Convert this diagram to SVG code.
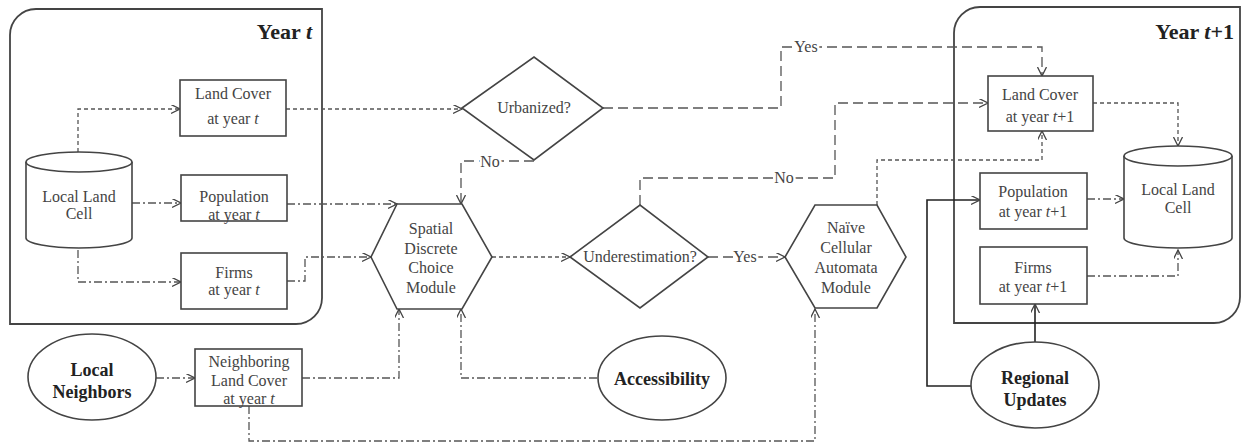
<svg xmlns="http://www.w3.org/2000/svg" width="1244" height="444" viewBox="0 0 1244 444">
<style>
.c{fill:none;stroke:#444;stroke-width:1.8}
.b{fill:#fff;stroke:#444;stroke-width:1.6}
.t{font-family:"Liberation Serif","Times New Roman",serif;font-size:16px;fill:#444;text-anchor:middle}
.bt{font-family:"Liberation Serif","Times New Roman",serif;font-size:18px;font-weight:bold;fill:#222;text-anchor:middle}
.ttl{font-family:"Liberation Serif","Times New Roman",serif;font-size:22px;font-weight:bold;fill:#222;text-anchor:end}
.i{font-style:italic}
.e{fill:none;stroke:#555;stroke-width:1.3;marker-end:url(#a)}
.sd{stroke-dasharray:4,3}
.dd{stroke-dasharray:8,3,2,3}
.ld{stroke-dasharray:10,5}
.so{stroke:#222;stroke-width:1.6}
.lb{font-family:"Liberation Serif","Times New Roman",serif;font-size:16px;fill:#444;text-anchor:middle;stroke:#fff;stroke-width:5;paint-order:stroke}
</style>
<defs>
<marker id="a" markerWidth="10" markerHeight="10" refX="9" refY="4.5" orient="auto" markerUnits="userSpaceOnUse">
<path d="M0,0 L9,4.5 L0,9" fill="none" stroke="#444" stroke-width="1.3"/>
</marker>
</defs>
<rect width="1244" height="444" fill="#fff"/>

<g id="year-t">
<path class="c" d="M10,324 V35 A26,26 0 0 1 36,9 H322 V298 A26,26 0 0 1 296,324 Z"/>
<text class="ttl" x="312" y="39">Year <tspan class="i">t</tspan></text>
</g>
<g id="year-t1">
<path class="c" d="M954,323 V33 A26,26 0 0 1 980,7 H1240 V297 A26,26 0 0 1 1214,323 Z"/>
<text class="ttl" x="1234" y="39">Year <tspan class="i">t</tspan>+1</text>
</g>

<g id="connectors">
<path class="e sd" d="M78,152 V109 H180"/>
<path class="e dd" d="M132,203 H181"/>
<path class="e dd" d="M78,250 V282 H181"/>
<path class="e sd" d="M286,109 H462"/>
<path class="e dd" d="M287,204 H397"/>
<path class="e dd" d="M287,281 H305 V257 H371"/>
<path class="e ld" d="M534,161 H461 V204"/>
<path class="e ld" d="M603,108 H781 V47 H1042 V76"/>
<path class="e sd" d="M492,257 H570"/>
<path class="e ld" d="M640,205 V178 H835 V103 H988"/>
<path class="e ld" d="M708,257 H785"/>
<path class="e sd" d="M877,205 V160 H1042 V131"/>
<path class="e sd" d="M1093,103 H1178 V146"/>
<path class="e dd" d="M1087,199 H1124"/>
<path class="e dd" d="M1087,276 H1178 V250"/>
<path class="e so" d="M1035,343 V304"/>
<path class="e so" d="M971,386 H927 V200 H980"/>
<path class="e dd" d="M156,378 H195"/>
<path class="e dd" d="M302,378 H399 V309"/>
<path class="e dd" d="M249,406 V441 H815 V309"/>
<path class="e dd" d="M597,378 H461 V309"/>
<text class="lb" x="490" y="167">No</text>
<text class="lb" x="806" y="52">Yes</text>
<text class="lb" x="784" y="183">No</text>
<text class="lb" x="745" y="262">Yes</text>
</g>

<g id="local-land-cell-t">
<path class="b" d="M26,162 V238 A53,10 0 0 0 132,238 V162 A53,10 0 0 0 26,162 Z"/>
<path class="b" fill="none" d="M26,162 A53,10 0 0 0 132,162"/>
<text class="t" x="79" y="202">Local Land</text>
<text class="t" x="79" y="219">Cell</text>
</g>
<g id="land-cover-t">
<rect class="b" x="180" y="80" width="106" height="56"/>
<text class="t" x="233" y="99">Land Cover</text>
<text class="t" x="233" y="124">at year <tspan class="i">t</tspan></text>
</g>
<g id="population-t">
<rect class="b" x="181" y="175" width="106" height="46"/>
<text class="t" x="234" y="202">Population</text>
<text class="t" x="234" y="220">at year <tspan class="i">t</tspan></text>
</g>
<g id="firms-t">
<rect class="b" x="181" y="253" width="106" height="56"/>
<text class="t" x="234" y="278">Firms</text>
<text class="t" x="234" y="295">at year <tspan class="i">t</tspan></text>
</g>

<g id="urbanized">
<path class="b" d="M462,108 L534,57 L603,108 L534,160 Z"/>
<text class="t" x="534" y="113">Urbanized?</text>
</g>
<g id="spatial-discrete-choice">
<path class="b" d="M397,204 H462 L492,257 L462,309 H397 L371,257 Z"/>
<text class="t" x="431" y="234">Spatial</text>
<text class="t" x="431" y="254">Discrete</text>
<text class="t" x="431" y="273">Choice</text>
<text class="t" x="431" y="293">Module</text>
</g>
<g id="underestimation">
<path class="b" d="M570,257 L640,205 L708,257 L640,308 Z"/>
<text class="t" x="640" y="262">Underestimation?</text>
</g>
<g id="naive-ca">
<path class="b" d="M815,205 H877 L906,257 L877,308 H815 L785,257 Z"/>
<text class="t" x="846" y="233">Naïve</text>
<text class="t" x="846" y="253">Cellular</text>
<text class="t" x="846" y="273">Automata</text>
<text class="t" x="846" y="293">Module</text>
</g>

<g id="land-cover-t1">
<rect class="b" x="988" y="76" width="105" height="55"/>
<text class="t" x="1040" y="100">Land Cover</text>
<text class="t" x="1040" y="122">at year <tspan class="i">t</tspan>+1</text>
</g>
<g id="population-t1">
<rect class="b" x="980" y="173" width="107" height="56"/>
<text class="t" x="1033" y="197">Population</text>
<text class="t" x="1033" y="217">at year <tspan class="i">t</tspan>+1</text>
</g>
<g id="firms-t1">
<rect class="b" x="980" y="247" width="107" height="57"/>
<text class="t" x="1033" y="273">Firms</text>
<text class="t" x="1033" y="292">at year <tspan class="i">t</tspan>+1</text>
</g>
<g id="local-land-cell-t1">
<path class="b" d="M1124,156 V238 A54,10 0 0 0 1232,238 V156 A54,10 0 0 0 1124,156 Z"/>
<path class="b" fill="none" d="M1124,156 A54,10 0 0 0 1232,156"/>
<text class="t" x="1178" y="195">Local Land</text>
<text class="t" x="1178" y="213">Cell</text>
</g>

<g id="local-neighbors">
<ellipse class="b" cx="92" cy="377" rx="64" ry="43"/>
<text class="bt" x="92" y="376">Local</text>
<text class="bt" x="92" y="398">Neighbors</text>
</g>
<g id="neighboring-land-cover">
<rect class="b" x="195" y="349" width="107" height="57"/>
<text class="t" x="249" y="367">Neighboring</text>
<text class="t" x="249" y="386">Land Cover</text>
<text class="t" x="249" y="404">at year <tspan class="i">t</tspan></text>
</g>
<g id="accessibility">
<ellipse class="b" cx="662" cy="378" rx="64" ry="42"/>
<text class="bt" x="662" y="385">Accessibility</text>
</g>
<g id="regional-updates">
<ellipse class="b" cx="1035" cy="385" rx="64" ry="43"/>
<text class="bt" x="1035" y="384">Regional</text>
<text class="bt" x="1035" y="406">Updates</text>
</g>
</svg>
